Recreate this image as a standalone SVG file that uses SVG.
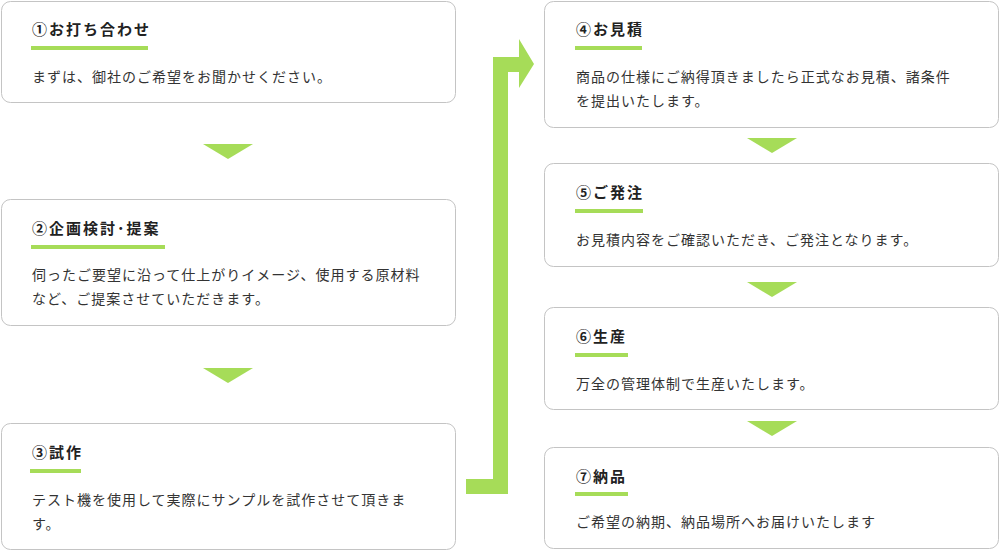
<svg xmlns="http://www.w3.org/2000/svg" width="1000" height="551" viewBox="0 0 1000 551">
<style>
.box{fill:#fff;stroke:#c4c4c4;stroke-width:1}
.ttl{font-family:"Noto Sans CJK JP","Noto Sans",sans-serif;font-size:15px;font-weight:bold;fill:#222;letter-spacing:2px}
.txt{font-family:"Noto Sans CJK JP","Noto Sans",sans-serif;font-size:14px;fill:#333;letter-spacing:1px}
.ul{fill:#a6dc58}
.arw{fill:#a6dc58}
</style>
<rect width="1000" height="551" fill="#fff"/>
<g id="step1">
<rect class="box" x="1.5" y="1.5" width="454" height="101" rx="9"/>
<text class="ttl" x="32" y="35">①お打ち合わせ</text>
<rect class="ul" x="31" y="46" width="117" height="4"/>
<text class="txt" x="32" y="82">まずは、御社のご希望をお聞かせください。</text>
</g>
<g id="step2">
<rect class="box" x="1.5" y="199.5" width="454" height="126" rx="9"/>
<text class="ttl" x="32" y="234">②企画検討･提案</text>
<rect class="ul" x="31" y="245" width="134" height="4"/>
<text class="txt" x="32" y="280">伺ったご要望に沿って仕上がりイメージ、使用する原材料</text>
<text class="txt" x="32" y="304">など、ご提案させていただきます。</text>
</g>
<g id="step3">
<rect class="box" x="1.5" y="423.5" width="454" height="126" rx="9"/>
<text class="ttl" x="32" y="458">③試作</text>
<rect class="ul" x="30" y="469" width="51" height="4"/>
<text class="txt" x="32" y="505">テスト機を使用して実際にサンプルを試作させて頂きま</text>
<text class="txt" x="32" y="529">す。</text>
</g>
<g id="step4">
<rect class="box" x="544.5" y="1.5" width="454" height="126" rx="9"/>
<text class="ttl" x="576" y="35">④お見積</text>
<rect class="ul" x="575" y="46" width="67" height="4"/>
<text class="txt" x="576" y="82">商品の仕様にご納得頂きましたら正式なお見積、諸条件</text>
<text class="txt" x="576" y="106">を提出いたします。</text>
</g>
<g id="step5">
<rect class="box" x="544.5" y="163.5" width="454" height="103" rx="9"/>
<text class="ttl" x="576" y="198">⑤ご発注</text>
<rect class="ul" x="575" y="209" width="68" height="4"/>
<text class="txt" x="576" y="245">お見積内容をご確認いただき、ご発注となります。</text>
</g>
<g id="step6">
<rect class="box" x="544.5" y="307.5" width="454" height="102" rx="9"/>
<text class="ttl" x="576" y="342">⑥生産</text>
<rect class="ul" x="575" y="353" width="53" height="4"/>
<text class="txt" x="576" y="389">万全の管理体制で生産いたします。</text>
</g>
<g id="step7">
<rect class="box" x="544.5" y="447.5" width="454" height="101" rx="9"/>
<text class="ttl" x="576" y="482">⑦納品</text>
<rect class="ul" x="575" y="492" width="53" height="4"/>
<text class="txt" x="576" y="527">ご希望の納期、納品場所へお届けいたします</text>
</g>
<g id="connectors">
<polygon class="arw" points="203,144 253,144 228,159"/>
<polygon class="arw" points="203,368 253,368 228,383"/>
<polygon class="arw" points="466,479 493,479 493,57 519,57 519,39 534,64 519,88 519,72 508,72 508,494 466,494"/>
<polygon class="arw" points="747,138 797,138 772,153"/>
<polygon class="arw" points="747,282 797,282 772,297"/>
<polygon class="arw" points="747,421 797,421 772,436"/>
</g>
</svg>
